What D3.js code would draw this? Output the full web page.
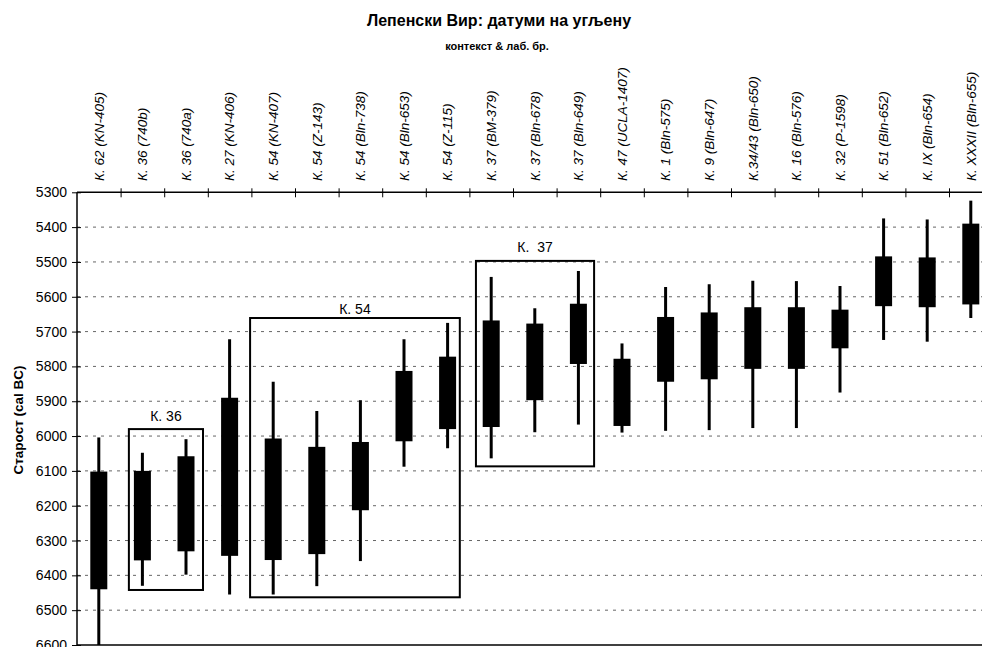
<!DOCTYPE html>
<html><head><meta charset="utf-8">
<script src="https://cdn.jsdelivr.net/npm/d3@7"></script>
<style>body{margin:0;background:#fff;overflow:hidden} svg{display:block}</style>
</head><body><svg id="c" width="982" height="647"></svg>
<script>
const categories = ["К. 62 (KN-405)","К. 36 (740b)","К. 36 (740a)","К. 27 (KN-406)","К. 54 (KN-407)","К. 54 (Z-143)","К. 54 (Bln-738)","К. 54 (Bln-653)","К. 54 (Z-115)","К. 37 (BM-379)","К. 37 (Bln-678)","К. 37 (Bln-649)","К. 47 (UCLA-1407)","К. 1 (Bln-575)","К. 9 (Bln-647)","К.34/43 (Bln-650)","К. 16 (Bln-576)","К. 32 (P-1598)","К. 51 (Bln-652)","К. IX (Bln-654)","К. XXXII (Bln-655)"];
const wickTop    = [6004,6048,6009,5722,5844,5928,5897,5722,5675,5543,5633,5526,5734,5572,5564,5554,5555,5569,5375,5378,5324];
const boxTop     = [6102,6100,6058,5890,6007,6031,6017,5813,5772,5668,5677,5620,5778,5658,5645,5630,5630,5637,5484,5487,5390];
const boxBottom  = [6440,6357,6331,6344,6356,6339,6213,6015,5980,5974,5897,5793,5971,5844,5837,5807,5807,5748,5627,5630,5622];
const wickBottom = [6600,6430,6398,6455,6455,6431,6359,6088,6035,6064,5989,5967,5990,5985,5983,5977,5977,5875,5724,5729,5661];
const yTicks = [5300,5400,5500,5600,5700,5800,5900,6000,6100,6200,6300,6400,6500,6600];
const groupNames  = ["К. 36","К. 54","К.  37"];
const groupFrom   = [1.19, 3.97, 9.15];
const groupTo     = [2.89, 8.78, 11.86];
const groupTop    = [5980, 5661, 5497];
const groupBottom = [6442, 6463, 6087];

const svg = d3.select("#c");
const W = 982, H = 647;
const left = 77, band = 43.6;
const x = d3.scaleBand().domain(categories).range([left, left + band*categories.length]);
const xi = d3.scaleLinear().domain([0, categories.length]).range([left, left + band*categories.length]);
const y = d3.scaleLinear().domain([5300, 6600]).range([192.3, 645]);
const font = "'Liberation Sans', Arial, sans-serif";

// title
svg.append("text").attr("x", 499).attr("y", 26).attr("text-anchor","middle")
  .style("font-family", font).style("font-weight","bold").style("font-size","16px")
  .text("Лепенски Вир: датуми на угљену");
svg.append("text").attr("x", 497).attr("y", 50).attr("text-anchor","middle")
  .style("font-family", font).style("font-weight","bold").style("font-size","11px")
  .text("контекст & лаб. бр.");

// grid
svg.append("g").selectAll("line").data(yTicks.filter(d => d > 5300 && d < 6600)).join("line")
  .attr("x1", left).attr("x2", W).attr("y1", d => y(d)).attr("y2", d => y(d))
  .attr("stroke", "#666").attr("stroke-width", 1).attr("stroke-dasharray", "3,5");

// bottom line
svg.append("line").attr("x1", left).attr("x2", W).attr("y1", y(6600)).attr("y2", y(6600))
  .attr("stroke", "#000").attr("stroke-width", 1.5);

// candles
const bw = 17, ww = 3;
const g = svg.append("g");
g.selectAll("line.w").data(categories).join("line").attr("class","w")
  .attr("x1", d => x(d) + x.bandwidth()/2).attr("x2", d => x(d) + x.bandwidth()/2)
  .attr("y1", (d,i) => y(wickTop[i])).attr("y2", (d,i) => y(wickBottom[i]))
  .attr("stroke", "#000").attr("stroke-width", ww);
g.selectAll("rect").data(categories).join("rect")
  .attr("x", d => x(d) + x.bandwidth()/2 - bw/2).attr("width", bw)
  .attr("y", (d,i) => y(boxTop[i])).attr("height", (d,i) => y(boxBottom[i]) - y(boxTop[i]))
  .attr("fill", "#000");

// group boxes
const gb = svg.append("g");
groupNames.forEach((n, i) => {
  gb.append("rect").attr("x", xi(groupFrom[i])).attr("width", xi(groupTo[i]) - xi(groupFrom[i]))
    .attr("y", y(groupTop[i])).attr("height", y(groupBottom[i]) - y(groupTop[i]))
    .attr("fill", "none").attr("stroke", "#000").attr("stroke-width", 2);
});
const labelGap = [8.5, 4, 8.5];
groupNames.forEach((n, i) => {
  gb.append("text").attr("x", (xi(groupFrom[i]) + xi(groupTo[i]))/2).attr("y", y(groupTop[i]) - labelGap[i])
    .attr("text-anchor","middle").attr("xml:space","preserve").style("white-space","pre")
    .style("font-family", font).style("font-size","14px").text(n);
});

// top axis
const ta = svg.append("g").attr("transform", `translate(0,${y(5300)})`)
  .call(d3.axisTop(xi).tickValues(d3.range(1, categories.length)).tickSize(4).tickFormat(""));
ta.select(".domain").remove();
ta.selectAll(".tick line").attr("y1", 5).attr("y2", -4).attr("stroke-width", 1);
svg.append("line").attr("x1", left).attr("x2", W).attr("y1", y(5300)).attr("y2", y(5300))
  .attr("stroke", "#000").attr("stroke-width", 1.5);

// top category labels
svg.append("g").selectAll("text").data(categories).join("text")
  .attr("transform", d => `translate(${x(d) + x.bandwidth()/2 + 4.7},181) rotate(-90)`)
  .style("font-family", font).style("font-style","italic").style("font-size","13.5px")
  .text(d => d);

// left axis
const la = svg.append("g").attr("transform", `translate(${left},0)`)
  .call(d3.axisLeft(y).tickValues(yTicks).tickFormat(d3.format("d")).tickSize(5).tickPadding(5));
la.select(".domain").attr("stroke-width", 1.5).attr("d", `M0,${y(5300)}V${y(6600)}`);
la.selectAll(".tick line").attr("x1", -5).attr("x2", 4);
la.selectAll(".tick text").style("font-family", font).style("font-size","14px").attr("fill","#000");

// y axis title
svg.append("text").attr("transform", `translate(23,420) rotate(-90)`).attr("text-anchor","middle")
  .style("font-family", font).style("font-weight","bold").style("font-size","13.5px")
  .text("Старост (cal BC)");
</script></body></html>
